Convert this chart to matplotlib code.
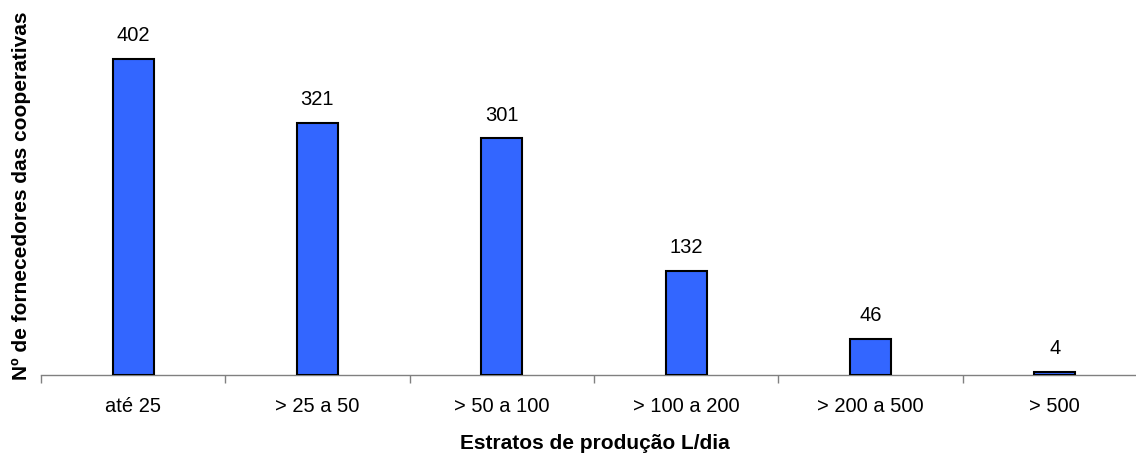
import matplotlib
matplotlib.use("Agg")
import matplotlib.pyplot as plt
import numpy as np

plt.rcParams['font.family'] = ['Liberation Sans', 'DejaVu Sans']

categories = ["até 25", "> 25 a 50", "> 50 a 100", "> 100 a 200", "> 200 a 500", "> 500"]
fornecedores = [402, 321, 301, 132, 46, 4]

fig = plt.figure(figsize=(11.36, 4.55), dpi=100)
W, H = 1136, 455
left_px, right_px = 41, 41 + 6 * 184.3
bottom_px, top_px = 375, 21.3
ax = fig.add_axes([left_px / W, 1 - bottom_px / H,
                   (right_px - left_px) / W, (bottom_px - top_px) / H])

x = np.arange(len(categories))
ax.bar(x, fornecedores, width=0.222, color="#3366FF", edgecolor="black", linewidth=1.5, zorder=3)

for xi, v in zip(x, fornecedores):
    ax.annotate(str(v), (xi, v), xytext=(0, 10), textcoords="offset points",
                ha="center", va="bottom", fontsize=14.5)

ax.set_xlim(-0.5, len(categories) - 0.5)
ax.set_ylim(0, 450)

for side in ("top", "right", "left"):
    ax.spines[side].set_visible(False)
ax.spines["bottom"].set_color("#808080")
ax.spines["bottom"].set_linewidth(1.0)

ax.set_yticks([])
ax.set_xticks(x)
ax.set_xticklabels(categories, fontsize=14.5)
ax.tick_params(axis="x", which="major", length=0, pad=16)
ax.set_xticks(np.arange(-0.5, len(categories)), minor=True)
ax.tick_params(axis="x", which="minor", length=6, color="#808080", width=1.0, direction="out")

ax.set_xlabel("Estratos de produção L/dia", fontsize=15, fontweight="bold")
ax.xaxis.set_label_coords(595 / W, 1 - 434 / H, transform=fig.transFigure)
ax.set_ylabel("Nº de fornecedores das cooperativas", fontsize=15, fontweight="bold")
ax.yaxis.set_label_coords(31 / W, 1 - 195.5 / H, transform=fig.transFigure)

fig.savefig("out.png", dpi=100)
